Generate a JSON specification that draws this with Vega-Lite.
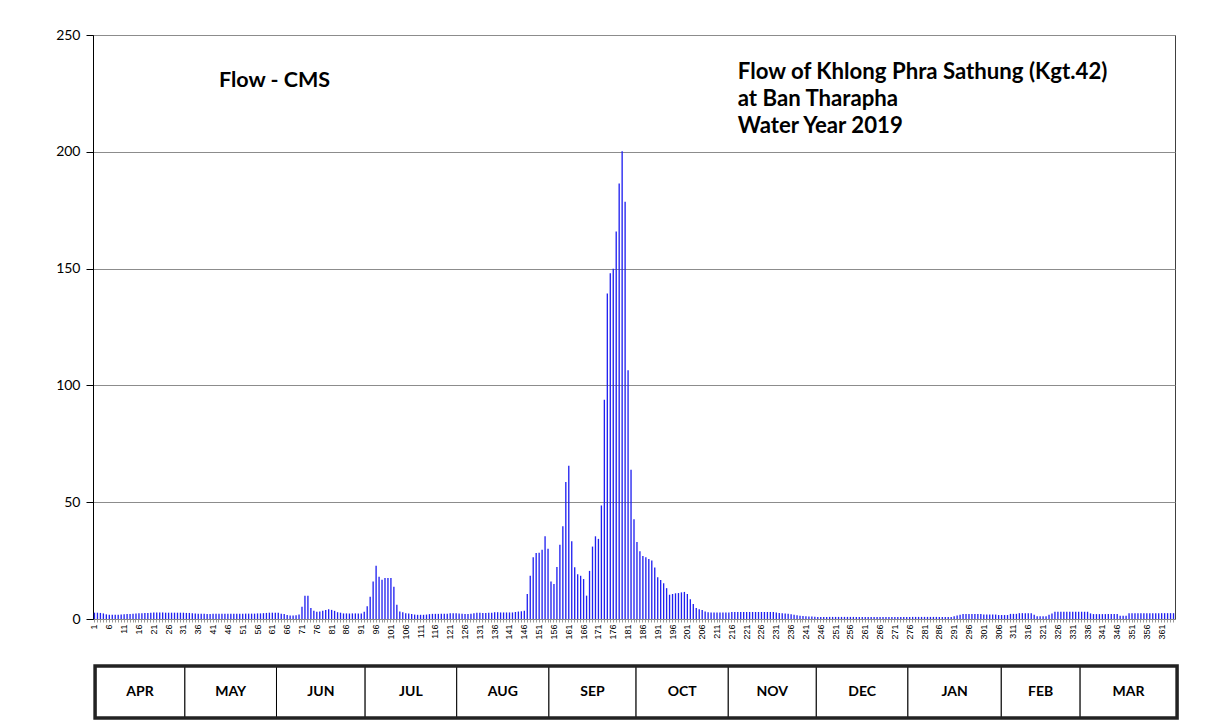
{
  "$schema": "https://vega.github.io/schema/vega-lite/v6.json",
  "background": "white",
  "padding": {"left": 55, "top": 27, "right": 5, "bottom": 5},
  "config": {"font": "Lato", "view": {"stroke": null}},
  "datasets": {
    "flow": [
      {"day":1,"flow":2.7},{"day":2,"flow":2.7},{"day":3,"flow":2.6},{"day":4,"flow":2.4},{"day":5,"flow":2.0},{"day":6,"flow":1.8},{"day":7,"flow":1.8},{"day":8,"flow":1.8},{"day":9,"flow":1.8},{"day":10,"flow":1.9},
      {"day":11,"flow":2.0},{"day":12,"flow":2.1},{"day":13,"flow":2.1},{"day":14,"flow":2.2},{"day":15,"flow":2.4},{"day":16,"flow":2.5},{"day":17,"flow":2.5},{"day":18,"flow":2.6},{"day":19,"flow":2.6},{"day":20,"flow":2.7},
      {"day":21,"flow":2.8},{"day":22,"flow":2.8},{"day":23,"flow":2.8},{"day":24,"flow":2.8},{"day":25,"flow":2.7},{"day":26,"flow":2.7},{"day":27,"flow":2.7},{"day":28,"flow":2.7},{"day":29,"flow":2.7},{"day":30,"flow":2.7},
      {"day":31,"flow":2.7},{"day":32,"flow":2.6},{"day":33,"flow":2.6},{"day":34,"flow":2.5},{"day":35,"flow":2.4},{"day":36,"flow":2.3},{"day":37,"flow":2.2},{"day":38,"flow":2.2},{"day":39,"flow":2.1},{"day":40,"flow":2.1},
      {"day":41,"flow":2.2},{"day":42,"flow":2.2},{"day":43,"flow":2.3},{"day":44,"flow":2.3},{"day":45,"flow":2.3},{"day":46,"flow":2.3},{"day":47,"flow":2.3},{"day":48,"flow":2.3},{"day":49,"flow":2.3},{"day":50,"flow":2.3},
      {"day":51,"flow":2.3},{"day":52,"flow":2.3},{"day":53,"flow":2.3},{"day":54,"flow":2.3},{"day":55,"flow":2.3},{"day":56,"flow":2.4},{"day":57,"flow":2.4},{"day":58,"flow":2.5},{"day":59,"flow":2.6},{"day":60,"flow":2.7},
      {"day":61,"flow":2.7},{"day":62,"flow":2.7},{"day":63,"flow":2.7},{"day":64,"flow":2.3},{"day":65,"flow":2.1},{"day":66,"flow":1.7},{"day":67,"flow":1.5},{"day":68,"flow":1.5},{"day":69,"flow":1.6},{"day":70,"flow":1.9},
      {"day":71,"flow":5.2},{"day":72,"flow":10.0},{"day":73,"flow":10.0},{"day":74,"flow":4.7},{"day":75,"flow":3.5},{"day":76,"flow":3.1},{"day":77,"flow":3.2},{"day":78,"flow":3.5},{"day":79,"flow":3.8},{"day":80,"flow":4.2},
      {"day":81,"flow":3.9},{"day":82,"flow":3.5},{"day":83,"flow":2.9},{"day":84,"flow":2.7},{"day":85,"flow":2.4},{"day":86,"flow":2.4},{"day":87,"flow":2.4},{"day":88,"flow":2.4},{"day":89,"flow":2.4},{"day":90,"flow":2.4},
      {"day":91,"flow":2.4},{"day":92,"flow":3.1},{"day":93,"flow":5.5},{"day":94,"flow":9.5},{"day":95,"flow":16.0},{"day":96,"flow":22.8},{"day":97,"flow":18.1},{"day":98,"flow":16.8},{"day":99,"flow":17.5},{"day":100,"flow":17.5},
      {"day":101,"flow":17.5},{"day":102,"flow":13.8},{"day":103,"flow":6.1},{"day":104,"flow":3.2},{"day":105,"flow":2.9},{"day":106,"flow":2.5},{"day":107,"flow":2.4},{"day":108,"flow":2.1},{"day":109,"flow":1.9},{"day":110,"flow":1.8},
      {"day":111,"flow":1.8},{"day":112,"flow":1.8},{"day":113,"flow":1.9},{"day":114,"flow":2.1},{"day":115,"flow":2.2},{"day":116,"flow":2.2},{"day":117,"flow":2.2},{"day":118,"flow":2.2},{"day":119,"flow":2.3},{"day":120,"flow":2.3},
      {"day":121,"flow":2.5},{"day":122,"flow":2.5},{"day":123,"flow":2.5},{"day":124,"flow":2.4},{"day":125,"flow":2.2},{"day":126,"flow":2.1},{"day":127,"flow":2.1},{"day":128,"flow":2.2},{"day":129,"flow":2.5},{"day":130,"flow":2.7},
      {"day":131,"flow":2.7},{"day":132,"flow":2.6},{"day":133,"flow":2.6},{"day":134,"flow":2.7},{"day":135,"flow":2.7},{"day":136,"flow":2.9},{"day":137,"flow":2.9},{"day":138,"flow":2.8},{"day":139,"flow":2.8},{"day":140,"flow":2.8},
      {"day":141,"flow":2.8},{"day":142,"flow":2.8},{"day":143,"flow":3.0},{"day":144,"flow":3.2},{"day":145,"flow":3.3},{"day":146,"flow":3.5},{"day":147,"flow":10.7},{"day":148,"flow":18.5},{"day":149,"flow":26.4},{"day":150,"flow":28.3},
      {"day":151,"flow":28.4},{"day":152,"flow":29.6},{"day":153,"flow":35.4},{"day":154,"flow":30.1},{"day":155,"flow":16.0},{"day":156,"flow":15.0},{"day":157,"flow":22.3},{"day":158,"flow":31.8},{"day":159,"flow":39.7},{"day":160,"flow":58.6},
      {"day":161,"flow":65.6},{"day":162,"flow":33.3},{"day":163,"flow":22.1},{"day":164,"flow":19.2},{"day":165,"flow":18.5},{"day":166,"flow":17.1},{"day":167,"flow":10.0},{"day":168,"flow":20.6},{"day":169,"flow":31.0},{"day":170,"flow":35.4},
      {"day":171,"flow":34.3},{"day":172,"flow":48.6},{"day":173,"flow":93.9},{"day":174,"flow":139.3},{"day":175,"flow":148.0},{"day":176,"flow":149.9},{"day":177,"flow":165.9},{"day":178,"flow":186.4},{"day":179,"flow":200.2},{"day":180,"flow":178.6},
      {"day":181,"flow":106.5},{"day":182,"flow":63.9},{"day":183,"flow":42.7},{"day":184,"flow":33.0},{"day":185,"flow":29.0},{"day":186,"flow":27.0},{"day":187,"flow":26.4},{"day":188,"flow":25.7},{"day":189,"flow":25.0},{"day":190,"flow":22.0},
      {"day":191,"flow":17.9},{"day":192,"flow":16.7},{"day":193,"flow":15.3},{"day":194,"flow":13.2},{"day":195,"flow":10.4},{"day":196,"flow":10.7},{"day":197,"flow":11.0},{"day":198,"flow":11.1},{"day":199,"flow":11.4},{"day":200,"flow":11.6},
      {"day":201,"flow":10.7},{"day":202,"flow":8.5},{"day":203,"flow":6.4},{"day":204,"flow":4.7},{"day":205,"flow":4.2},{"day":206,"flow":3.8},{"day":207,"flow":3.2},{"day":208,"flow":2.9},{"day":209,"flow":2.8},{"day":210,"flow":2.8},
      {"day":211,"flow":2.8},{"day":212,"flow":2.8},{"day":213,"flow":2.8},{"day":214,"flow":2.8},{"day":215,"flow":2.8},{"day":216,"flow":3.0},{"day":217,"flow":3.0},{"day":218,"flow":3.0},{"day":219,"flow":3.0},{"day":220,"flow":3.0},
      {"day":221,"flow":3.0},{"day":222,"flow":3.0},{"day":223,"flow":3.0},{"day":224,"flow":3.0},{"day":225,"flow":3.0},{"day":226,"flow":3.0},{"day":227,"flow":3.0},{"day":228,"flow":3.0},{"day":229,"flow":3.0},{"day":230,"flow":3.0},
      {"day":231,"flow":2.8},{"day":232,"flow":2.6},{"day":233,"flow":2.5},{"day":234,"flow":2.4},{"day":235,"flow":2.3},{"day":236,"flow":2.0},{"day":237,"flow":1.8},{"day":238,"flow":1.6},{"day":239,"flow":1.4},{"day":240,"flow":1.3},
      {"day":241,"flow":1.2},{"day":242,"flow":1.1},{"day":243,"flow":1.1},{"day":244,"flow":1.0},{"day":245,"flow":0.9},{"day":246,"flow":0.9},{"day":247,"flow":0.9},{"day":248,"flow":0.9},{"day":249,"flow":0.9},{"day":250,"flow":0.9},
      {"day":251,"flow":0.9},{"day":252,"flow":0.9},{"day":253,"flow":0.9},{"day":254,"flow":0.9},{"day":255,"flow":0.9},{"day":256,"flow":0.9},{"day":257,"flow":0.9},{"day":258,"flow":0.9},{"day":259,"flow":0.9},{"day":260,"flow":0.9},
      {"day":261,"flow":0.9},{"day":262,"flow":0.9},{"day":263,"flow":0.9},{"day":264,"flow":0.9},{"day":265,"flow":0.9},{"day":266,"flow":0.9},{"day":267,"flow":0.9},{"day":268,"flow":0.9},{"day":269,"flow":0.9},{"day":270,"flow":0.9},
      {"day":271,"flow":0.9},{"day":272,"flow":0.9},{"day":273,"flow":0.9},{"day":274,"flow":0.9},{"day":275,"flow":0.9},{"day":276,"flow":0.9},{"day":277,"flow":0.9},{"day":278,"flow":0.9},{"day":279,"flow":0.9},{"day":280,"flow":0.9},
      {"day":281,"flow":0.9},{"day":282,"flow":0.9},{"day":283,"flow":0.9},{"day":284,"flow":0.9},{"day":285,"flow":0.9},{"day":286,"flow":0.9},{"day":287,"flow":0.9},{"day":288,"flow":0.9},{"day":289,"flow":0.9},{"day":290,"flow":0.9},
      {"day":291,"flow":1.2},{"day":292,"flow":1.5},{"day":293,"flow":1.8},{"day":294,"flow":2.1},{"day":295,"flow":2.1},{"day":296,"flow":2.1},{"day":297,"flow":2.1},{"day":298,"flow":2.1},{"day":299,"flow":2.1},{"day":300,"flow":2.1},
      {"day":301,"flow":1.9},{"day":302,"flow":1.9},{"day":303,"flow":1.9},{"day":304,"flow":1.9},{"day":305,"flow":1.9},{"day":306,"flow":1.7},{"day":307,"flow":1.7},{"day":308,"flow":1.7},{"day":309,"flow":1.7},{"day":310,"flow":2.2},
      {"day":311,"flow":2.2},{"day":312,"flow":2.2},{"day":313,"flow":2.5},{"day":314,"flow":2.5},{"day":315,"flow":2.5},{"day":316,"flow":2.5},{"day":317,"flow":2.5},{"day":318,"flow":1.8},{"day":319,"flow":1.2},{"day":320,"flow":1.2},
      {"day":321,"flow":1.2},{"day":322,"flow":1.2},{"day":323,"flow":1.8},{"day":324,"flow":2.4},{"day":325,"flow":3.1},{"day":326,"flow":3.1},{"day":327,"flow":3.1},{"day":328,"flow":3.1},{"day":329,"flow":3.1},{"day":330,"flow":3.1},
      {"day":331,"flow":3.1},{"day":332,"flow":3.1},{"day":333,"flow":3.1},{"day":334,"flow":3.1},{"day":335,"flow":3.1},{"day":336,"flow":3.1},{"day":337,"flow":2.4},{"day":338,"flow":2.1},{"day":339,"flow":2.1},{"day":340,"flow":2.1},
      {"day":341,"flow":2.1},{"day":342,"flow":2.1},{"day":343,"flow":2.1},{"day":344,"flow":2.1},{"day":345,"flow":2.1},{"day":346,"flow":2.1},{"day":347,"flow":1.4},{"day":348,"flow":1.4},{"day":349,"flow":1.4},{"day":350,"flow":2.5},
      {"day":351,"flow":2.5},{"day":352,"flow":2.5},{"day":353,"flow":2.5},{"day":354,"flow":2.5},{"day":355,"flow":2.5},{"day":356,"flow":2.5},{"day":357,"flow":2.5},{"day":358,"flow":2.5},{"day":359,"flow":2.5},{"day":360,"flow":2.5},
      {"day":361,"flow":2.5},{"day":362,"flow":2.5},{"day":363,"flow":2.5},{"day":364,"flow":2.5},{"day":365,"flow":2.5}
    ],
    "months": [
      {"month":"APR","start":1.2,"end":31.5},
      {"month":"MAY","start":31.5,"end":62.4},
      {"month":"JUN","start":62.4,"end":92.3},
      {"month":"JUL","start":92.3,"end":123.2},
      {"month":"AUG","start":123.2,"end":154.3},
      {"month":"SEP","start":154.3,"end":183.7},
      {"month":"OCT","start":183.7,"end":214.8},
      {"month":"NOV","start":214.8,"end":244.5},
      {"month":"DEC","start":244.5,"end":275.4},
      {"month":"JAN","start":275.4,"end":306.9},
      {"month":"FEB","start":306.9,"end":333.5},
      {"month":"MAR","start":333.5,"end":366.2}
    ]
  },
  "spacing": 24,
  "vconcat": [
    {
      "width": 1082,
      "height": 584,
      "view": {"stroke": "#404040", "strokeWidth": 1},
      "layer": [
        {
          "data": {"name": "flow"},
          "mark": {"type": "bar", "color": "#2020f0", "width": {"band": 0.45}},
          "encoding": {
            "x": {
              "field": "day", "type": "ordinal",
              "scale": {"paddingInner": 0, "paddingOuter": 0},
              "axis": {
                "title": null, "labelAngle": -90, "labelFontSize": 9, "labelColor": "#000",
                "labelExpr": "(datum.value - 1) % 5 == 0 ? datum.label : ''",
                "labelPadding": 2, "tickSize": 3, "tickColor": "#999", "domainColor": "#888",
                "labelOverlap": false, "labelFont": "Liberation Sans"
              }
            },
            "y": {
              "field": "flow", "type": "quantitative",
              "scale": {"domain": [0, 250], "nice": false},
              "axis": {
                "title": null, "values": [0, 50, 100, 150, 200, 250],
                "labelFontSize": 14, "labelColor": "#000", "labelPadding": 6,
                "tickSize": 7, "tickColor": "#000", "domainColor": "#000",
                "gridColor": "#8c8c8c", "gridWidth": 1
              }
            }
          }
        },
        {
          "data": {"values": [{}]},
          "mark": {"type": "text", "text": "Flow - CMS", "align": "left", "baseline": "middle", "fontSize": 21.5, "fontWeight": "bold", "color": "#000"},
          "encoding": {"x": {"datum": 43, "type": "ordinal"}, "y": {"datum": 230.5, "type": "quantitative"}}
        },
        {
          "data": {"values": [{}]},
          "mark": {"type": "text", "text": ["Flow of Khlong Phra Sathung (Kgt.42)", "at Ban Tharapha", "Water Year 2019"], "lineHeight": 27, "align": "left", "baseline": "middle", "fontSize": 22.2, "fontWeight": "bold", "color": "#000"},
          "encoding": {"x": {"datum": 218, "type": "ordinal"}, "y": {"datum": 234.2, "type": "quantitative"}}
        }
      ]
    },
    {
      "width": 1082,
      "height": 52,
      "data": {"name": "months"},
      "layer": [
        {
          "mark": {"type": "rect", "fill": "white", "stroke": "#000", "strokeWidth": 1},
          "encoding": {
            "x": {"field": "start", "type": "quantitative", "scale": {"domain": [0.5, 365.5], "nice": false, "zero": false}, "axis": null},
            "x2": {"field": "end"}
          }
        },
        {
          "transform": [{"aggregate": [{"op": "min", "field": "start", "as": "s"}, {"op": "max", "field": "end", "as": "e"}]}],
          "mark": {"type": "rect", "fill": null, "fillOpacity": 0, "stroke": "#222", "strokeWidth": 3.5},
          "encoding": {
            "x": {"field": "s", "type": "quantitative"},
            "x2": {"field": "e"}
          }
        },
        {
          "transform": [{"calculate": "(datum.start + datum.end) / 2", "as": "mid"}],
          "mark": {"type": "text", "fontSize": 14, "fontWeight": "bold", "color": "#000", "baseline": "middle"},
          "encoding": {
            "x": {"field": "mid", "type": "quantitative"},
            "text": {"field": "month"}
          }
        }
      ]
    }
  ]
}
